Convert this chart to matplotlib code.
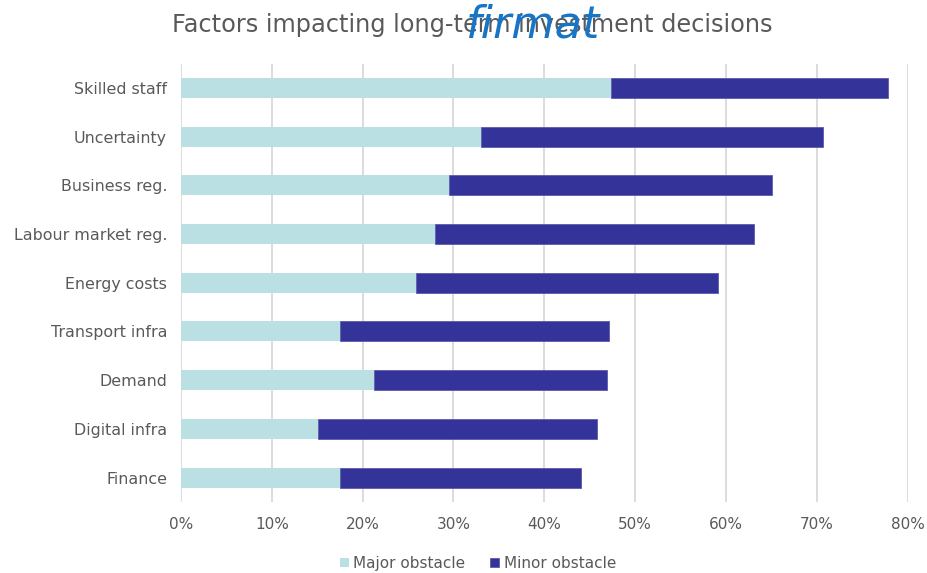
import matplotlib.pyplot as plt
from matplotlib.ticker import FuncFormatter

categories = ['Skilled staff', 'Uncertainty', 'Business reg.', 'Labour market reg.',
              'Energy costs', 'Transport infra', 'Demand', 'Digital infra', 'Finance']
major = [47.3, 33.0, 29.5, 28.0, 25.9, 17.5, 21.2, 15.1, 17.5]
total = [77.8, 70.7, 65.1, 63.1, 59.1, 47.1, 46.9, 45.8, 44.0]
minor = [t - m for t, m in zip(total, major)]

grey = '#595959'
plt.rcParams['font.family'] = 'DejaVu Sans'

fig = plt.figure(figsize=(9.28, 5.73), dpi=100)
ax = fig.add_axes([0.195, 0.124, 0.783, 0.765])

y = list(range(len(categories)))
ax.barh(y, major, height=0.41, color='#BBE0E3', label='Major obstacle', zorder=3)
ax.barh(y, minor, left=major, height=0.41, color='#333399', edgecolor='#5a5aad',
        linewidth=0.6, label='Minor obstacle', zorder=3)

ax.set_ylim(len(categories) - 0.5, -0.5)
ax.set_yticks(y)
ax.set_yticklabels(categories)
ax.set_xlim(0, 80)
ax.set_xticks(range(0, 81, 10))
ax.xaxis.set_major_formatter(FuncFormatter(lambda v, p: f'{v:.0f}%'))
ax.grid(axis='x', color='#D9D9D9', linewidth=1.3, zorder=0)
for s in ['top', 'right', 'bottom', 'left']:
    ax.spines[s].set_visible(False)
ax.tick_params(axis='x', length=0, pad=11, labelsize=11, labelcolor=grey)
ax.tick_params(axis='y', length=0, pad=10, labelsize=11.4, labelcolor=grey)

# title, with the logo sitting over it as in the original
fig.text(0.509, 0.957, 'Factors impacting long-term investment decisions',
         ha='center', va='center', fontsize=17.3, color=grey)
fig.text(0.575, 0.935, 'firmat', ha='center', va='baseline', fontsize=32,
         style='italic', color='#1874C4')

fig.legend(loc='center', bbox_to_anchor=(0.515, 0.017), ncol=2, frameon=False,
           fontsize=11, labelcolor=grey, handlelength=0.6, handleheight=0.6,
           handletextpad=0.3, columnspacing=1.6)

fig.savefig('out.png', dpi=100)
